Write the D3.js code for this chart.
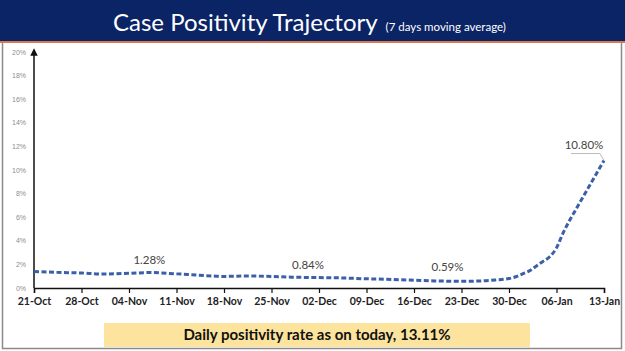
<!DOCTYPE html>
<html>
<head>
<meta charset="utf-8">
<script src="https://cdn.jsdelivr.net/npm/d3@7"></script>
<style>
  body { margin: 0; background: #fff; }
  svg { display: block; }
</style>
</head>
<body>
<div id="chart-area"></div>
<script>
// day offsets from 21-Oct and the 7-day moving average (%)
var days = [0, 3, 7, 10, 14, 17, 21, 24, 28, 31, 35, 38, 42, 45, 49, 52, 56, 59, 63, 66, 68,
            70, 71, 72, 73, 74, 75, 76, 77, 78, 79, 80, 81, 82, 83, 84];
var rates = [1.40, 1.33, 1.27, 1.19, 1.24, 1.31, 1.2, 1.1, 0.98, 1.02, 0.98, 0.92, 0.88, 0.86, 0.78, 0.74, 0.66, 0.6, 0.57, 0.6, 0.68,
             0.8, 0.95, 1.2, 1.45, 1.85, 2.25, 2.65, 3.4, 4.7, 5.8, 6.8, 7.8, 8.8, 9.8, 10.8];
var tickLabels = ["21-Oct", "28-Oct", "04-Nov", "11-Nov", "18-Nov", "25-Nov", "02-Dec",
                  "09-Dec", "16-Dec", "23-Dec", "30-Dec", "06-Jan", "13-Jan"];
var yTicks = [0, 2, 4, 6, 8, 10, 12, 14, 16, 18, 20];
var callouts = [
  {day: 17, value: 1.28, text: "1.28%", dx: 0, dy: -9},
  {day: 42, value: 0.84, text: "0.84%", dx: -11, dy: -9},
  {day: 63, value: 0.59, text: "0.59%", dx: -14, dy: -10}
];

var W = 625, H = 351;
var svg = d3.select("#chart-area").append("svg")
    .attr("width", W).attr("height", H);

// header band
svg.append("rect").attr("x", 0).attr("y", 0).attr("width", W).attr("height", 41)
    .attr("fill", "#0b2466");
svg.append("rect").attr("x", 0).attr("y", 41).attr("width", W).attr("height", 2)
    .attr("fill", "#d9784a");

var title = svg.append("text")
    .attr("x", 113).attr("y", 31)
    .attr("fill", "#fff")
    .style("font-family", "Lato, 'Open Sans', sans-serif");
title.append("tspan").attr("font-size", "24px").text("Case Positivity Trajectory");
title.append("tspan").attr("font-size", "11.5px").attr("dx", 8).text("(7 days moving average)");

// panel border
svg.append("path")
    .attr("d", "M2.5,43 V348.5 H621.5 V43")
    .attr("fill", "none").attr("stroke", "#8a8a8a").attr("stroke-width", 1.5);

var x = d3.scaleLinear().domain([0, 84]).range([34, 604]);
var y = d3.scaleLinear().domain([0, 20]).range([288, 52]);

// y axis labels
svg.append("g").selectAll("text").data(yTicks).enter().append("text")
    .attr("x", 26).attr("y", (d) => y(d) + 2.5)
    .attr("text-anchor", "end")
    .attr("font-size", "7px")
    .attr("fill", "#8c8c8c")
    .style("font-family", "'Liberation Sans', sans-serif")
    .text((d) => d + "%");

// y axis line with arrow
svg.append("defs").append("marker")
    .attr("id", "arrow").attr("viewBox", "0 0 10 10")
    .attr("refX", 5).attr("refY", 5)
    .attr("markerWidth", 5).attr("markerHeight", 5)
    .attr("orient", "auto-start-reverse")
    .append("path").attr("d", "M0,0 L10,5 L0,10 z").attr("fill", "#111");
svg.append("line")
    .attr("x1", 34).attr("x2", 34).attr("y1", 288).attr("y2", 52)
    .attr("stroke", "#111").attr("stroke-width", 1.5)
    .attr("marker-end", "url(#arrow)");

// x axis
var xAxisCall = d3.axisBottom(x)
    .tickValues(d3.range(0, 85, 7))
    .tickSize(5)
    .tickFormat((d, i) => tickLabels[i]);
var xAxisGroup = svg.append("g")
    .attr("transform", "translate(0, 288)")
    .call(xAxisCall);
xAxisGroup.select(".domain").attr("stroke", "#111").attr("stroke-width", 1.5);
xAxisGroup.selectAll(".tick line").attr("stroke", "#111").attr("stroke-width", 1.2);
xAxisGroup.selectAll(".tick text")
    .attr("y", 10)
    .attr("font-size", "10.5px")
    .attr("font-weight", "bold")
    .attr("fill", "#222")
    .style("font-family", "Lato, 'Open Sans', sans-serif");

// line
var line = d3.line()
    .x((d, i) => x(days[i]))
    .y((d) => y(d))
    .curve(d3.curveMonotoneX);
svg.append("path")
    .datum(rates)
    .attr("d", line)
    .attr("fill", "none")
    .attr("stroke", "#3b5fa8")
    .attr("stroke-width", 3)
    .attr("stroke-dasharray", "5,2.5");

// callouts
svg.append("g").selectAll("text").data(callouts).enter().append("text")
    .attr("x", (d) => x(d.day) + d.dx)
    .attr("y", (d) => y(d.value) + d.dy)
    .attr("text-anchor", "middle")
    .attr("font-size", "11.5px")
    .attr("fill", "#444")
    .style("font-family", "Lato, 'Open Sans', sans-serif")
    .text((d) => d.text);

// last value with leader line
var lastX = x(days[days.length - 1]), lastY = y(rates[rates.length - 1]);
svg.append("polyline")
    .attr("points", [[lastX - 33, lastY - 7], [lastX - 4, lastY - 7], [lastX, lastY]].join(" "))
    .attr("fill", "none").attr("stroke", "#bbb").attr("stroke-width", 1);
svg.append("text")
    .attr("x", lastX - 20).attr("y", lastY - 12)
    .attr("text-anchor", "middle")
    .attr("font-size", "11.5px")
    .attr("fill", "#444")
    .style("font-family", "Lato, 'Open Sans', sans-serif")
    .text("10.80%");

// bottom note
svg.append("rect").attr("x", 104).attr("y", 323).attr("width", 426).attr("height", 24)
    .attr("fill", "#fce49e");
svg.append("text")
    .attr("x", 317).attr("y", 340)
    .attr("text-anchor", "middle")
    .attr("font-size", "15px")
    .attr("font-weight", "bold")
    .attr("fill", "#111")
    .style("font-family", "Lato, 'Open Sans', sans-serif")
    .text("Daily positivity rate as on today, 13.11%");
</script>
</body>
</html>
